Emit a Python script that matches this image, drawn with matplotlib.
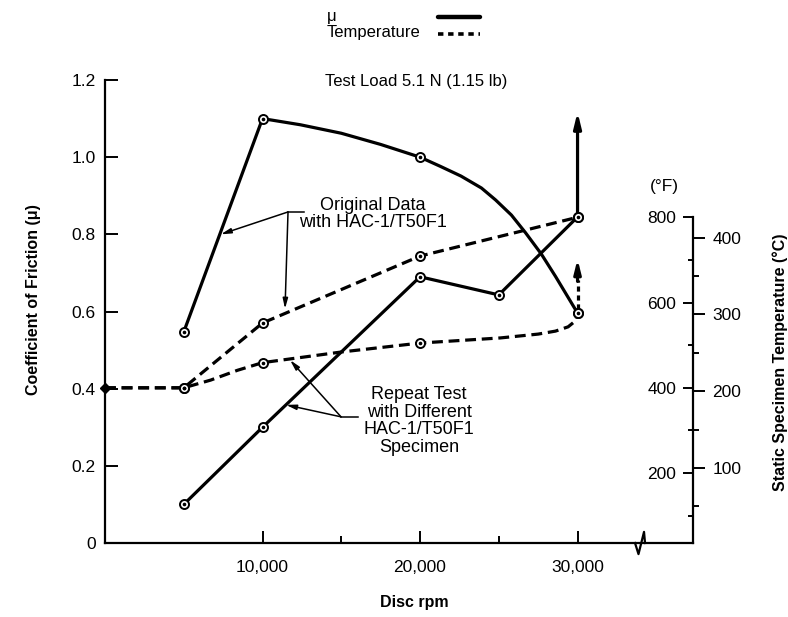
import matplotlib.pyplot as plt
from matplotlib.ticker import FixedLocator

plt.rcParams['font.family'] = ['Liberation Sans', 'DejaVu Sans']

# disc speed readings (rpm)
rpm_points = [5000, 10000, 20000, 30000]
rpm_repeat = [5000, 10000, 20000, 25000, 30000]

# coefficient of friction
mu_original = [0.547, 1.10, 1.0, 0.596]
mu_repeat = [0.10, 0.30, 0.69, 0.643, 0.845]
# path of the original friction curve
mu_original_curve_rpm = [5000, 10000, 12400, 15000, 17500, 20000, 21300, 22600,
                         23900, 24800, 25800, 26700, 27700, 28600, 30000]
mu_original_curve = [0.547, 1.10, 1.084, 1.062, 1.033, 1.0, 0.976, 0.951,
                     0.920, 0.889, 0.850, 0.804, 0.749, 0.691, 0.596]
mu_repeat_arrow_tip = 1.117

# static specimen temperature (deg F)
temp_start_rpm = 0
temp_start = 400
temp_original_rpm = [0, 5000, 10000, 20000, 30000]
temp_original = [400, 400, 552, 709, 800]
temp_repeat_points_rpm = [5000, 10000, 20000, 30000]
temp_repeat_points = [400, 459, 505, 575]
temp_repeat_curve_rpm = [0, 5000, 6700, 8400, 10000, 15000, 20000,
                         25100, 27500, 28600, 29400, 29900, 30000]
temp_repeat_curve = [400, 400, 418, 441, 459, 484, 505,
                     517, 526, 533, 543, 558, 575]
temp_repeat_arrow_tip = 702

mu_ticks = [0, 0.2, 0.4, 0.6, 0.8, 1.0, 1.2]
mu_ticklabels = ['0', '0.2', '0.4', '0.6', '0.8', '1.0', '1.2']
rpm_ticks = [10000, 20000, 30000]
rpm_ticklabels = ['10,000', '20,000', '30,000']
temp_f_ticks = [200, 400, 600, 800]
temp_c_ticks = [100, 200, 300, 400]


def f_to_c(f):
    return (f - 32) / 1.8


def c_to_f(c):
    return c * 1.8 + 32


W, H = 788, 617
fig = plt.figure(figsize=(W / 100, H / 100), dpi=100)
ax = fig.add_axes([105 / W, 74 / H, 588 / W, 463 / H])
ax.set_xlim(0, 37330)
ax.set_ylim(0, 1.2)

ax2 = ax.twinx()
ax2.set_ylim(36, 36 + 905 * 1.2)

lw = 2.3
dash = (0, (3.4, 1.8))
mk = dict(marker='o', ms=6.5, mfc='white', mec='black', mew=1.4, ls='none', zorder=5)
dot = dict(marker='o', ms=1.6, color='black', ls='none', zorder=6)

# friction curves
ax.plot(mu_original_curve_rpm, mu_original_curve, color='black', lw=lw, zorder=3)
ax.plot(rpm_repeat, mu_repeat, color='black', lw=lw, zorder=3)
ax.plot(rpm_points, mu_original, **mk)
ax.plot(rpm_points, mu_original, **dot)
ax.plot(rpm_repeat, mu_repeat, **mk)
ax.plot(rpm_repeat, mu_repeat, **dot)
ax.annotate('', xy=(rpm_repeat[-1], mu_repeat_arrow_tip), xytext=(rpm_repeat[-1], mu_repeat[-1]),
            arrowprops=dict(arrowstyle='-|>,head_length=0.9,head_width=0.22', lw=lw,
                            color='black', shrinkA=0, shrinkB=0),
            annotation_clip=False, zorder=3)

# temperature curves
ax2.plot(temp_original_rpm, temp_original, color='black', lw=lw, ls=dash, zorder=3)
ax2.plot(temp_repeat_curve_rpm, temp_repeat_curve, color='black', lw=lw, ls=dash, zorder=3)
ax2.plot(temp_original_rpm[1:], temp_original[1:], **mk)
ax2.plot(temp_original_rpm[1:], temp_original[1:], **dot)
ax2.plot(temp_repeat_points_rpm, temp_repeat_points, **mk)
ax2.plot(temp_repeat_points_rpm, temp_repeat_points, **dot)
ax2.plot([temp_start_rpm], [temp_start], marker='D', ms=5, color='black',
         ls='none', clip_on=False, zorder=6)
shaft_top = temp_repeat_points[-1] + 0.62 * (temp_repeat_arrow_tip - temp_repeat_points[-1])
ax2.plot([30000, 30000], [temp_repeat_points[-1] + 10, shaft_top],
         color='black', lw=lw, ls=(0, (1.6, 1.2)), zorder=3)
ax2.annotate('', xy=(30000, temp_repeat_arrow_tip), xytext=(30000, shaft_top - 4),
             arrowprops=dict(arrowstyle='-|>,head_length=0.8,head_width=0.2', lw=lw,
                             color='black', shrinkA=0, shrinkB=0), zorder=3)

# axes styling
for a in (ax, ax2):
    a.spines['top'].set_visible(False)
ax.spines['right'].set_visible(False)
ax2.spines['left'].set_visible(False)
ax2.spines['bottom'].set_visible(False)
ax.spines['left'].set_linewidth(1.6)
ax.spines['bottom'].set_linewidth(1.6)
ax2.spines['right'].set_linewidth(1.6)
ax2.spines['right'].set_bounds(36, 800)

ax.set_xticks(rpm_ticks)
ax.set_xticklabels(rpm_ticklabels)
ax.xaxis.set_minor_locator(FixedLocator([15000, 25000]))
ax.set_yticks(mu_ticks)
ax.set_yticklabels(mu_ticklabels)
ax.tick_params(axis='x', which='major', direction='in', length=9, width=1.4,
               pad=12, labelsize=12.5)
ax.tick_params(axis='x', which='minor', direction='in', length=5, width=1.4)
ax.tick_params(axis='y', which='major', direction='in', length=9, width=1.4,
               pad=6.5, labelsize=12.5)

ax2.set_yticks(temp_f_ticks)
ax2.set_yticklabels([str(t) for t in temp_f_ticks])
ax2.yaxis.set_minor_locator(FixedLocator([100, 300, 500, 700]))
ax2.tick_params(axis='y', which='major', direction='in', length=7, width=1.4,
                pad=-12, labelsize=12.5)
ax2.tick_params(axis='y', which='minor', direction='in', length=3.5, width=1.4)
for lab in ax2.get_yticklabels():
    lab.set_horizontalalignment('right')

sec = ax2.secondary_yaxis('right', functions=(f_to_c, c_to_f))
sec.spines['right'].set_visible(False)
sec.set_yticks(temp_c_ticks)
sec.set_yticklabels([str(t) for t in temp_c_ticks])
sec.yaxis.set_minor_locator(FixedLocator([50, 150, 250, 350]))
sec.tick_params(axis='y', which='major', direction='out', length=8.5, width=1.4,
                pad=5.5, labelsize=12.5)
sec.tick_params(axis='y', which='minor', direction='out', length=4, width=1.4)

fig.text(780 / W, 1 - 362 / H, 'Static Specimen Temperature (°C)', fontsize=11.5,
         fontweight='bold', rotation=90, ha='center', va='center')

ax.set_ylabel('Coefficient of Friction (μ)', fontsize=11.5, fontweight='bold')
ax.yaxis.set_label_coords(-0.108, 0.525)
ax.set_xlabel('Disc rpm', fontsize=11.5, fontweight='bold')
ax.xaxis.set_label_coords(0.5255, -0.112)

fig.text(664 / W, 1 - 187 / H, '(°F)', fontsize=12.5, ha='center', va='center')

# axis break on the rpm scale
ax.plot([0.9014, 0.9073, 0.9167, 0.9184], [0.0, -0.024, 0.024, 0.0],
        transform=ax.transAxes, color='black', lw=1.6, clip_on=False)

ax.text(0.53, 0.996, 'Test Load 5.1 N (1.15 lb)', transform=ax.transAxes,
        fontsize=12, ha='center', va='center')

# callouts
arrow_kw = dict(arrowstyle='-|>,head_length=0.6,head_width=0.15', lw=1.1,
                color='black', shrinkA=0, shrinkB=0)
ax.text(17016, 0.853, 'Original Data\nwith HAC-1/T50F1', fontsize=13,
        ha='center', va='center', linespacing=0.95)
ax.plot([11619, 12635], [0.858, 0.858], color='black', lw=1.1)
ax.annotate('', xy=(7350, 0.80), xytext=(11619, 0.858), arrowprops=arrow_kw)
ax.annotate('', xy=(11429, 0.607), xytext=(11619, 0.858), arrowprops=arrow_kw)

ax.text(19937, 0.316, 'Repeat Test\nwith Different\nHAC-1/T50F1\nSpecimen',
        fontsize=13, ha='center', va='center', linespacing=1.05)
ax.plot([14984, 16063], [0.327, 0.327], color='black', lw=1.1)
ax.annotate('', xy=(11492, 0.358), xytext=(14984, 0.327), arrowprops=arrow_kw)
ax.annotate('', xy=(11750, 0.474), xytext=(14984, 0.327), arrowprops=arrow_kw)

# legend, drawn with the label in front of each line sample
fig.text(327 / W, 1 - 16 / H, 'μ', fontsize=12, ha='left', va='center')
fig.text(327 / W, 1 - 33 / H, 'Temperature', fontsize=12, ha='left', va='center')
fig.add_artist(plt.Line2D([438 / W, 480 / W], [1 - 17 / H, 1 - 17 / H],
                          color='black', lw=3.2, solid_capstyle='round'))
fig.add_artist(plt.Line2D([438 / W, 480 / W], [1 - 34 / H, 1 - 34 / H],
                          color='black', lw=2.6, ls=(0, (1.5, 1.3))))

fig.savefig('out.png', dpi=100)
